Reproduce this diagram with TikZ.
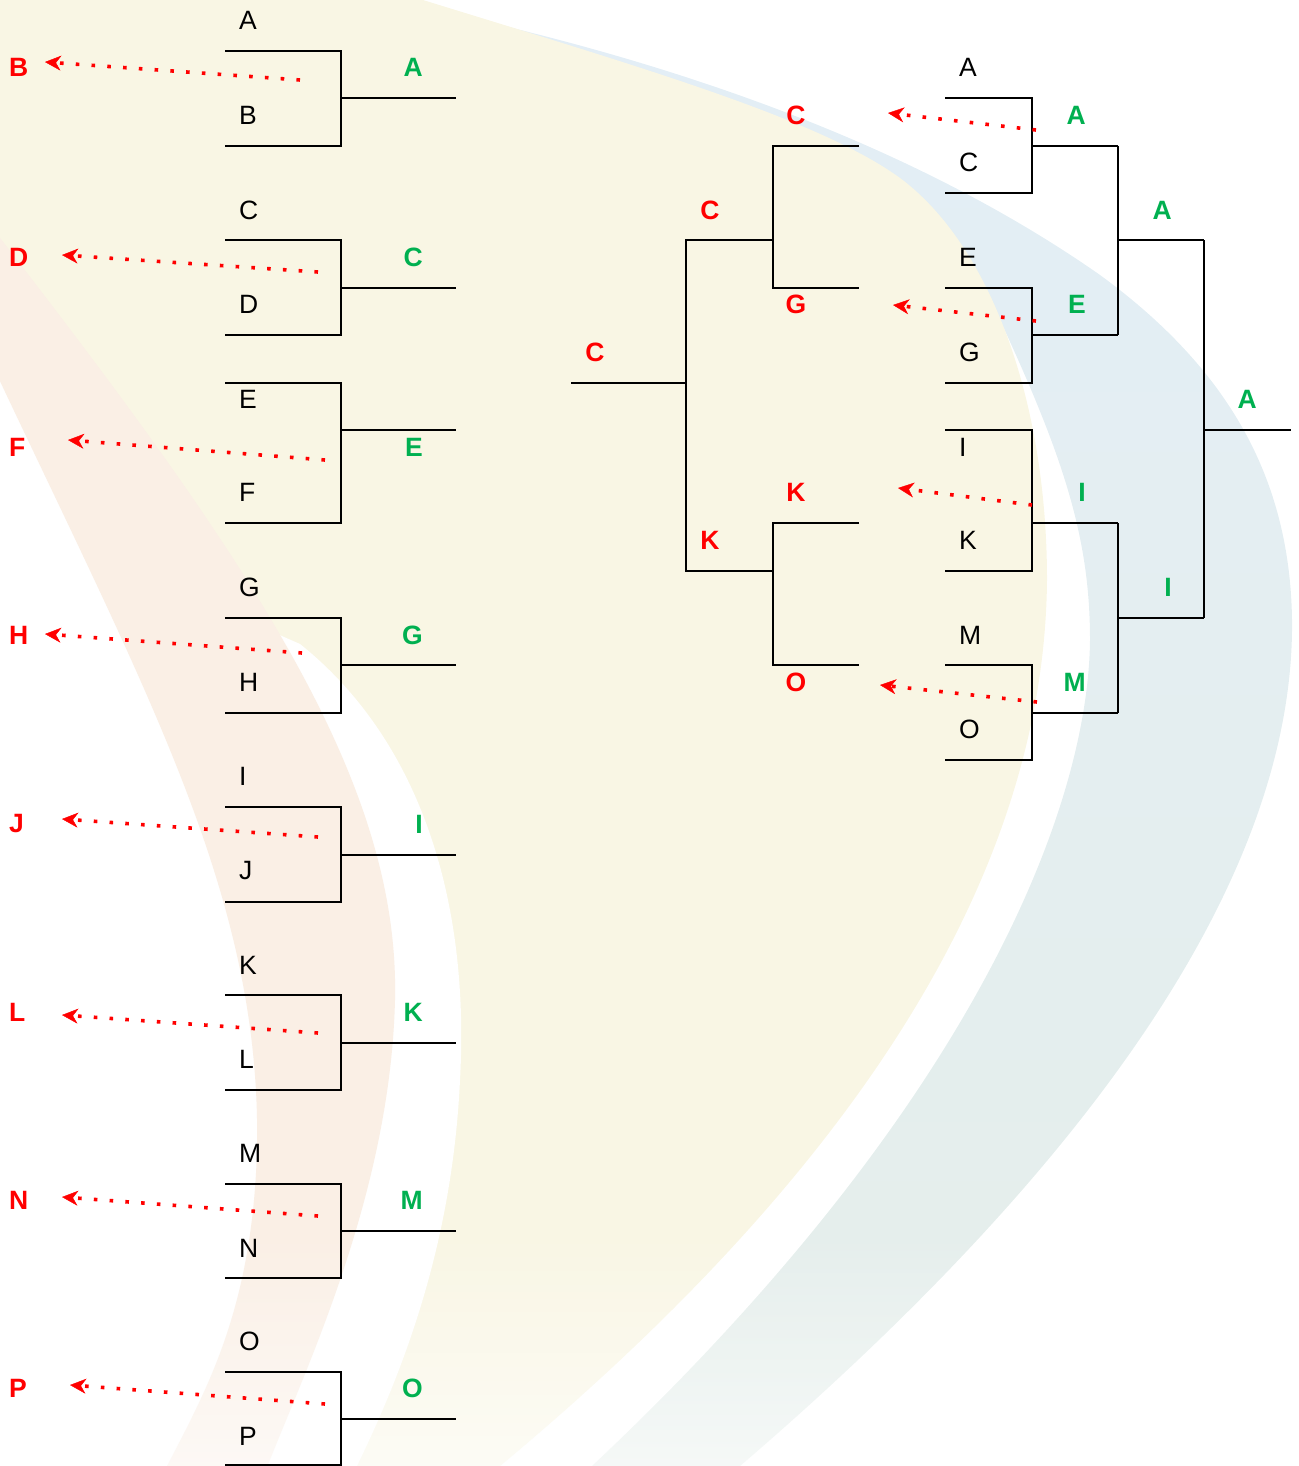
\documentclass[tikz,border=0pt]{standalone}
\usepackage{fontspec}
\setmainfont{Liberation Sans}
\usetikzlibrary{arrows.meta,fadings}
\definecolor{win}{HTML}{00B050}
\definecolor{lose}{HTML}{FF0000}
\definecolor{bgyellow}{HTML}{F9F6E4}
\definecolor{bgblue}{HTML}{E3EEF6}
\definecolor{bgbluelow}{HTML}{E5EEEA}
\definecolor{bgpink}{HTML}{FAEFE5}
\tikzfading[name=fadebottom, top color=transparent!100, bottom color=transparent!35]
\begin{document}
\begin{tikzpicture}[x=1pt,y=-1pt,
  plain/.style={inner sep=0pt, font=\fontsize{26.5}{30}\selectfont, text=black, anchor=west},
  winner/.style={inner sep=0pt, font=\fontsize{26.5}{30}\selectfont\bfseries, text=win, anchor=east},
  loser/.style={inner sep=0pt, font=\fontsize{26.5}{30}\selectfont\bfseries, text=lose},
  bracket/.style={draw=black, line width=2pt},
  elim/.style={draw=lose, line width=3.6pt, dash pattern=on 3.6pt off 12.2pt,
    -{Stealth[length=16pt, width=15pt, inset=5pt, line width=0.4pt]}},
]
\useasboundingbox (0,0) rectangle (1298,1466);
% ---------- background ----------
\begin{scope}
\clip (0,0) rectangle (1298,1466);
\shade[top color=bgblue, bottom color=bgbluelow]
  (500,25) .. controls (750,85) and (950,170) .. (1100,275)
  .. controls (1230,370) and (1290,480) .. (1292,620)
  .. controls (1295,900) and (1050,1200) .. (740,1466)
  -- (720,1485) -- (575,1485) -- (592,1466)
  .. controls (960,1120) and (1088,820) .. (1090,640)
  .. controls (1090,540) and (1065,460) .. (1000,320)
  -- cycle;
\fill[bgyellow] (-5,-5) -- (423,-5) -- (423,0)
  .. controls (650,70) and (820,120) .. (900,178)
  .. controls (990,245) and (1047,400) .. (1047,580)
  .. controls (1045,800) and (940,1100) .. (500,1466)
  -- (480,1485) -- (-5,1485) -- cycle;
\fill[white] (-10,300) -- (200,600) -- (300,644)
  .. controls (420,740) and (470,900) .. (460,1080)
  .. controls (452,1250) and (400,1380) .. (350,1480)
  -- (-10,1485) -- cycle;
\fill[bgpink] (-10,225) .. controls (250,560) and (400,780) .. (395,1000)
  .. controls (390,1200) and (300,1380) .. (262,1480)
  -- (160,1485) -- (160,1480)
  .. controls (200,1400) and (252,1320) .. (257,1150)
  .. controls (262,900) and (150,700) .. (-10,360)
  -- cycle;
\fill[white, path fading=fadebottom] (-5,1230) rectangle (1303,1470);
\end{scope}
% ---------- left column: first round ----------
\foreach \ii/\lta/\ltb/\yt/\yb/\yo/\lyt/\lyb/\lw/\sx/\sy/\ex/\ey in {
  1/A/B/51/146/98/20/115/67/300/80/45/62,
  2/C/D/240/335/288/210/304/257/318/272/62/255,
  3/E/F/383/523/430/399/492/447/325/460/68/440,
  4/G/H/618/713/665/587/682/635/302/653/45/634,
  5/I/J/807/902/855/776/871/824/318/837/62/819,
  6/K/L/995/1090/1043/965/1059/1012/318/1033/62/1015,
  7/M/N/1184/1278/1231/1153/1248/1200/318/1216/62/1197,
  8/O/P/1372/1465/1419/1341/1436/1388/325/1404/70/1385}
{
  \node[plain] (L\ii top) at (239,\lyt) {\lta};
  \node[plain] (L\ii bot) at (239,\lyb) {\ltb};
  \node[winner] (L\ii win) at (423,\lw) {\lta};
  \node[loser, anchor=west] (L\ii lose) at (9,\lw) {\ltb};
  \coordinate (L\ii a) at (225,\yt);
  \coordinate (L\ii b) at (341,\yt);
  \coordinate (L\ii c) at (341,\yb);
  \coordinate (L\ii d) at (225,\yb);
  \coordinate (L\ii m) at (341,\yo);
  \coordinate (L\ii o) at (456,\yo);
  \coordinate (L\ii s) at (\sx,\sy);
  \coordinate (L\ii e) at (\ex,\ey);
  \draw[bracket] (L\ii a) -- (L\ii b) -- (L\ii c) -- (L\ii d);
  \draw[bracket] (L\ii m) -- (L\ii o);
  \draw[elim] (L\ii s) -- (L\ii e);
}
% ---------- right: winners bracket ----------
\foreach \ii/\lta/\ltb/\yt/\yb/\yo/\lyt/\lyb/\lw/\sx/\sy/\ex/\ey in {
  1/A/C/98/193/146/67/162/115/1036/130/888/113,
  2/E/G/288/383/335/257/352/304/1036/321/893/305,
  3/I/K/430/571/523/447/540/492/1032/505/898/488,
  4/M/O/665/760/713/635/729/682/1037/702/880/685}
{
  \node[plain] (R\ii top) at (959,\lyt) {\lta};
  \node[plain] (R\ii bot) at (959,\lyb) {\ltb};
  \node[winner] (R\ii win) at (1086,\lw) {\lta};
  \coordinate (R\ii a) at (945,\yt);
  \coordinate (R\ii b) at (1032,\yt);
  \coordinate (R\ii c) at (1032,\yb);
  \coordinate (R\ii d) at (945,\yb);
  \coordinate (R\ii m) at (1032,\yo);
  \coordinate (R\ii o) at (1118,\yo);
  \coordinate (R\ii s) at (\sx,\sy);
  \coordinate (R\ii e) at (\ex,\ey);
  \draw[bracket] (R\ii a) -- (R\ii b) -- (R\ii c) -- (R\ii d);
  \draw[bracket] (R\ii m) -- (R\ii o);
  \draw[elim] (R\ii s) -- (R\ii e);
}
% second round
\draw[bracket] (R1o) -- (1118,240) coordinate (S1m) -- (R2o);
\draw[bracket] (R3o) -- (1118,618) coordinate (S2m) -- (R4o);
\coordinate (S1o) at (1204,240);
\coordinate (S2o) at (1204,618);
\draw[bracket] (S1m) -- (S1o);
\draw[bracket] (S2m) -- (S2o);
\node[winner] (S1win) at (1172,210) {A};
\node[winner] (S2win) at (1172,587) {I};
% final
\draw[bracket] (S1o) -- (1204,430) coordinate (Fm) -- (S2o);
\coordinate (Fo) at (1291,430);
\draw[bracket] (Fm) -- (Fo);
\node[winner] (Fwin) at (1257,399) {A};
% ---------- losers bracket (mirrored) ----------
\coordinate (K1a) at (859,146); \coordinate (K1b) at (773,146);
\coordinate (K1c) at (773,288); \coordinate (K1d) at (859,288);
\coordinate (K2a) at (859,523); \coordinate (K2b) at (773,523);
\coordinate (K2c) at (773,665); \coordinate (K2d) at (859,665);
\draw[bracket] (K1a) -- (K1b) -- (K1c) -- (K1d);
\draw[bracket] (K2a) -- (K2b) -- (K2c) -- (K2d);
\coordinate (K1m) at (773,240); \coordinate (K2m) at (773,571);
\coordinate (KFa) at (686,240); \coordinate (KFb) at (686,571);
\draw[bracket] (K1m) -- (KFa) -- (KFb) -- (K2m);
\coordinate (KFm) at (686,383); \coordinate (KFo) at (571,383);
\draw[bracket] (KFm) -- (KFo);
\node[loser] (K1top) at (796,115) {C};
\node[loser] (K1bot) at (796,304) {G};
\node[loser] (K2top) at (796,492) {K};
\node[loser] (K2bot) at (796,682) {O};
\node[loser] (KS1) at (710,210) {C};
\node[loser] (KS2) at (710,540) {K};
\node[loser] (KF) at (595,352) {C};
\end{tikzpicture}
\end{document}
